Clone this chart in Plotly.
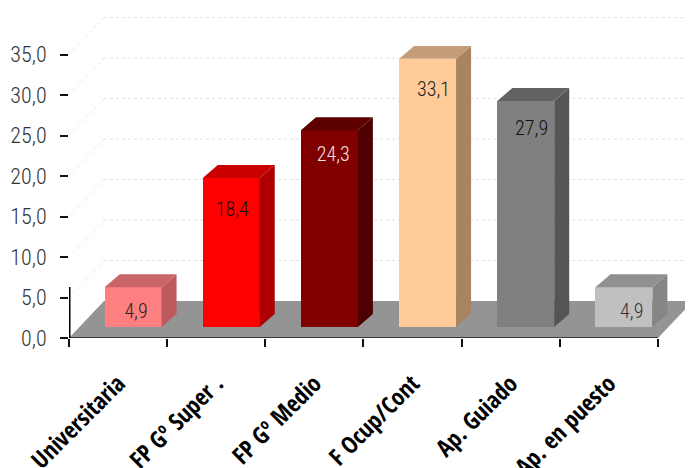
import plotly.graph_objects as go

categories = ["Universitaria", "FP Gº Super .", "FP Gº Medio", "F Ocup/Cont", "Ap. Guiado", "Ap. en puesto"]
values = [4.9, 18.4, 24.3, 33.1, 27.9, 4.9]
value_text = ["4,9", "18,4", "24,3", "33,1", "27,9", "4,9"]
front_colors = ["#FF8080", "#FF0000", "#800000", "#FFCC99", "#808080", "#C0C0C0"]
top_colors = ["#C96468", "#C80000", "#5C0000", "#C49C78", "#636363", "#909090"]
side_colors = ["#BC5A5E", "#AE0000", "#4E0000", "#A88560", "#555555", "#868686"]
label_colors = ["#222222", "#111111", "#F0E0E0", "#222222", "#111111", "#333333"]
y_ticks = [0, 5, 10, 15, 20, 25, 30, 35]
y_tick_text = ["0,0", "5,0", "10,0", "15,0", "20,0", "25,0", "30,0", "35,0"]

# 3-D look, in axis units
BASE = 1.36
BAR_W = 0.58
SHIFT = 0.153
DX = 0.153
DY = 1.6
FLOOR_DX = 0.357
FLOOR_DY = 4.57
LABEL_DROP = [3.2, 4.1, 3.2, 4.0, 3.6, 3.2]
LABEL_SHIFT = [0.03, 0.01, 0.04, 0.06, 0.06, 0.08]
NUM_FONT = "Roboto Condensed"
CAT_FONT = "Open Sans Condensed"

fig = go.Figure()
n = len(categories)
left_edge = -0.5
right_edge = n - 0.5

fig.add_trace(go.Bar(
    x=[i + SHIFT for i in range(n)], y=values, base=BASE, width=BAR_W,
    marker=dict(color=front_colors, line=dict(width=0)), hoverinfo="skip", showlegend=False,
))

for i, v in enumerate(values):
    x0 = i + SHIFT - BAR_W / 2
    x1 = i + SHIFT + BAR_W / 2
    top = BASE + v
    fig.add_trace(go.Scatter(
        x=[x1, x1 + DX, x1 + DX, x1, x1],
        y=[BASE, BASE + DY, top + DY, top, BASE],
        mode="lines", fill="toself", fillcolor=side_colors[i],
        line=dict(width=0), hoverinfo="skip", showlegend=False,
    ))
    fig.add_trace(go.Scatter(
        x=[x0, x1, x1 + DX, x0 + DX, x0],
        y=[top, top, top + DY, top + DY, top],
        mode="lines", fill="toself", fillcolor=top_colors[i],
        line=dict(width=0), hoverinfo="skip", showlegend=False,
    ))

fig.add_trace(go.Scatter(
    x=[i + SHIFT + LABEL_SHIFT[i] for i in range(n)],
    y=[BASE + v - LABEL_DROP[i] for i, v in enumerate(values)],
    mode="text", text=value_text,
    textfont=dict(family=NUM_FONT, size=20, color=label_colors, weight=300),
    hoverinfo="skip", showlegend=False,
))

# floor front edge and the heavy stub of the value axis
fig.add_trace(go.Scatter(x=[left_edge, right_edge], y=[0, 0], mode="lines", cliponaxis=False,
                         line=dict(color="#3A3A3A", width=2), hoverinfo="skip", showlegend=False))
fig.add_trace(go.Scatter(x=[left_edge, left_edge], y=[0, 6.3], mode="lines", cliponaxis=False,
                         line=dict(color="#000000", width=3), hoverinfo="skip", showlegend=False))

# ticks on the category boundaries, on a second axis
fig.add_trace(go.Scatter(x=[left_edge], y=[0], xaxis="x2", mode="markers",
                         marker=dict(opacity=0), hoverinfo="skip", showlegend=False))

shapes = []
for v in y_ticks[1:]:
    shapes.append(dict(type="line", layer="below", x0=left_edge, y0=v,
                       x1=left_edge + FLOOR_DX, y1=v + FLOOR_DY,
                       line=dict(color="#E8E8E8", width=1, dash="dot")))
    shapes.append(dict(type="line", layer="below", x0=left_edge + FLOOR_DX, y0=v + FLOOR_DY,
                       x1=right_edge + FLOOR_DX, y1=v + FLOOR_DY,
                       line=dict(color="#E2E2E2", width=1, dash="dot")))
shapes.append(dict(type="path", layer="below",
                   path=f"M {left_edge} 0 L {right_edge} 0 L {right_edge + FLOOR_DX} {FLOOR_DY} "
                        f"L {left_edge + FLOOR_DX} {FLOOR_DY} Z",
                   fillcolor="#949494", line=dict(width=0)))

x_range = [left_edge, right_edge + FLOOR_DX]
fig.update_layout(
    width=685, height=460, autosize=False,
    margin=dict(l=61, r=0, t=6, b=130, pad=0),
    paper_bgcolor="white", plot_bgcolor="white",
    showlegend=False, shapes=shapes, bargap=0,
    xaxis=dict(type="linear", range=x_range, tickmode="array", tickvals=list(range(n)),
               ticktext=categories, tickangle=-45, ticks="outside", ticklen=21, automargin=False,
               tickcolor="rgba(0,0,0,0)", showgrid=False, zeroline=False, showline=False,
               tickfont=dict(family=CAT_FONT, size=24, color="#000000", weight="bold")),
    xaxis2=dict(type="linear", range=x_range, overlaying="x", anchor="y", side="bottom",
                tickmode="array", tickvals=[i - 0.5 for i in range(n + 1)], automargin=False,
                ticktext=[""] * (n + 1), ticks="outside", ticklen=8, tickwidth=2,
                tickcolor="#111111", showgrid=False, zeroline=False, showline=False),
    yaxis=dict(range=[0, 40], tickmode="array", tickvals=y_ticks, ticktext=y_tick_text,
               ticks="outside", ticklen=8, tickwidth=2, tickcolor="#111111", ticklabelstandoff=9,
               showgrid=False, zeroline=False, showline=False, automargin=False,
               tickfont=dict(family=NUM_FONT, size=22, color="#333333", weight=300)),
)

fig.write_html("out.html")
